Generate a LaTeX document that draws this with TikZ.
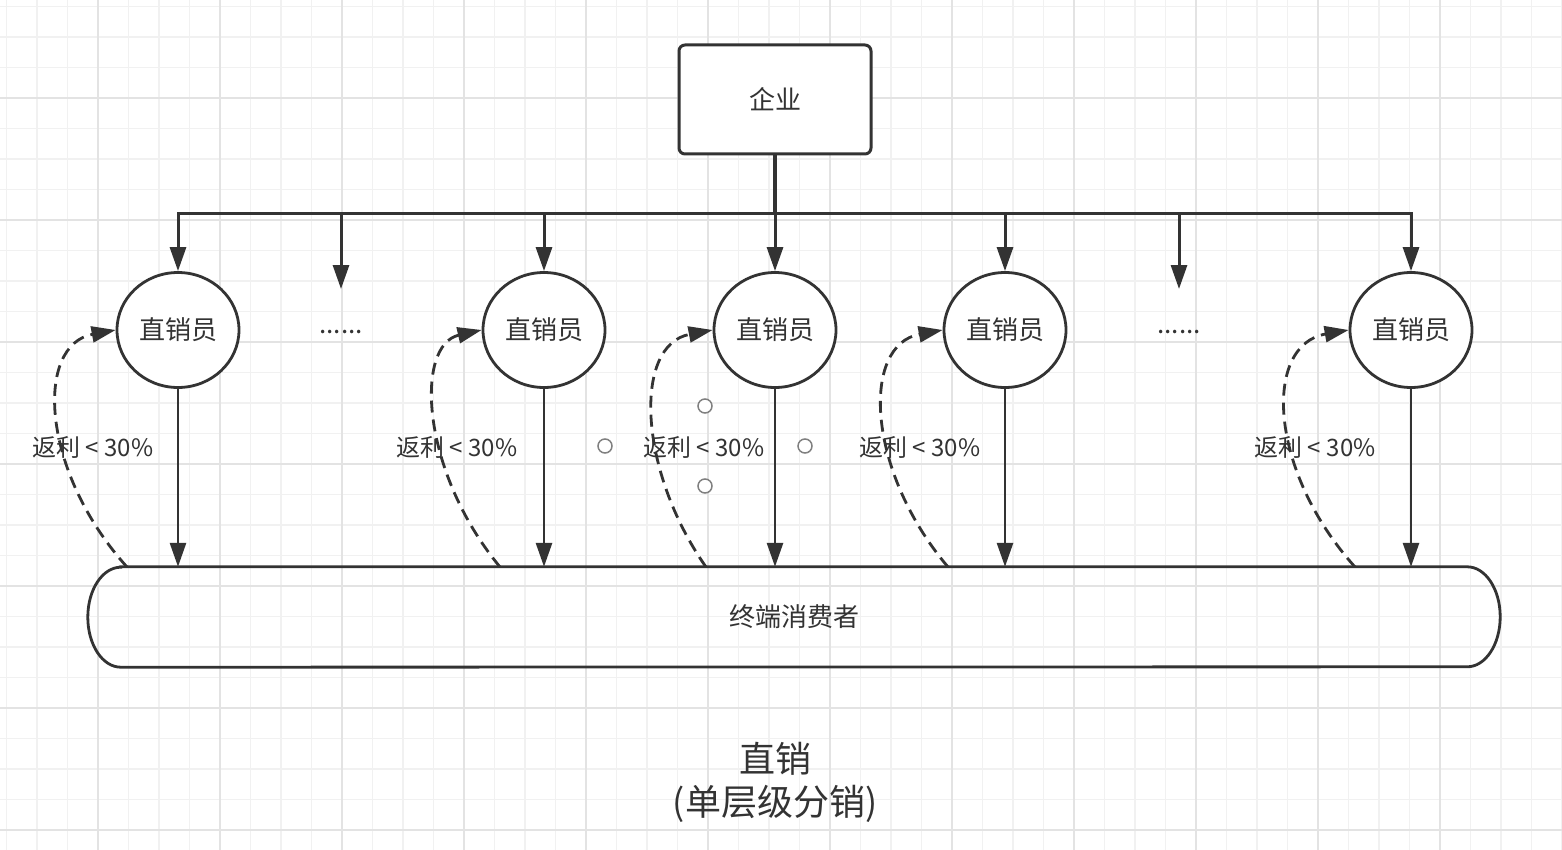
\documentclass[tikz,border=0pt]{standalone}
\usepackage{fontspec}
\setmainfont{Noto Sans CJK SC}
\usetikzlibrary{arrows.meta,shapes.geometric}
\definecolor{ink}{HTML}{333333}
\definecolor{gridminor}{HTML}{F1F1F1}
\definecolor{gridmajor}{HTML}{E3E3E3}
\definecolor{handle}{HTML}{808080}
\tikzset{
  minorline/.style={gridminor, line width=1.2pt},
  majorline/.style={gridmajor, line width=1.6pt},
  boxnode/.style={draw=ink, line width=3pt, rounded corners=6pt, fill=white,
    minimum width=192pt, minimum height=109pt, inner sep=0pt, text=ink,
    font=\fontsize{26pt}{30pt}\selectfont},
  sellernode/.style={ellipse, draw=ink, line width=2.8pt, fill=white,
    minimum width=122pt, minimum height=115pt, inner sep=0pt, text=ink,
    font=\fontsize{26pt}{30pt}\selectfont},
  dotsnode/.style={text=ink, inner sep=0pt, font=\fontsize{26pt}{30pt}\selectfont},
  labelnode/.style={text=ink, inner sep=0pt, font=\fontsize{24pt}{28pt}\selectfont},
  conn/.style={draw=ink, line width=2.8pt, -{Triangle[length=24pt,width=16pt]}},
  trunkconn/.style={draw=ink, line width=3pt, -{Triangle[length=24pt,width=16pt]}},
  rebate/.style={draw=ink, line width=2.8pt, dash pattern=on 12pt off 7pt,
    -{Triangle[length=24pt,width=16pt]}},
  handlenode/.style={circle, draw=handle, line width=1.5pt, fill=white,
    minimum size=14pt, inner sep=0pt},
}
\begin{document}
\begin{tikzpicture}[x=1pt,y=-1pt]
% background and bounding box
\fill[white] (0,0) rectangle (1562,850);
\useasboundingbox (0,0) rectangle (1562,850);
% grid
\foreach \i in {0,...,51} {\draw[minorline] ({6.5+30.5*\i},0) -- ({6.5+30.5*\i},850);}
\foreach \i in {0,...,27} {\draw[minorline] (0,{6.5+30.5*\i}) -- (1562,{6.5+30.5*\i});}
\foreach \i in {0,...,11} {\draw[majorline] ({98+122*\i},0) -- ({98+122*\i},850);}
\foreach \i in {0,...,6} {\draw[majorline] (0,{98+122*\i}) -- (1562,{98+122*\i});}

% nodes
\node[boxnode] (qy) at (775,99.5) {企业};
\node[sellernode] (s1) at (178,330) {直销员};
\node[sellernode] (s2) at (544,330) {直销员};
\node[sellernode] (s3) at (775,330) {直销员};
\node[sellernode] (s4) at (1005,330) {直销员};
\node[sellernode] (s5) at (1411,330) {直销员};
\node[dotsnode] (dots1) at (341,332) {......};
\node[dotsnode] (dots2) at (1179,332) {......};
\coordinate (e1) at (341,289);
\coordinate (e2) at (1179,289);
\coordinate (bus) at (0,214);

% consumer
\node[minimum width=1412pt, minimum height=100pt, inner sep=0pt, text=ink,
  font=\fontsize{26pt}{30pt}\selectfont] (cons) at (794,617) {终端消费者};
\draw[ink, line width=2.8pt]
  ([xshift=33pt]cons.north west) -- ([xshift=-33pt]cons.north east)
  arc[start angle=90, end angle=-90, x radius=33pt, y radius=50pt]
  -- ([xshift=33pt]cons.south west)
  arc[start angle=270, end angle=90, x radius=33pt, y radius=50pt] -- cycle;

% tree from 企业
\foreach \t in {s1,e1,s2,s3,s4,e2,s5} {
  \draw[trunkconn] (qy.south) -- (qy.south |- bus) -| (\t);
}
\draw[ink, line width=4pt] (qy.south) -- (qy.south |- bus);

% seller -> consumer
\foreach \t in {s1,s2,s3,s4,s5} {
  \draw[conn] (\t.south) -- (\t.south |- cons.north);
}

% rebate curves
\coordinate (r1) at (127,567);
\coordinate (r2) at (500,567);
\coordinate (r3) at (706,567);
\coordinate (r4) at (948,567);
\coordinate (r5) at (1355,567);
\draw[rebate] (r1) .. controls (40,470) and (35,345) .. (s1.west);
\draw[rebate] (r2) .. controls (420,470) and (415,345) .. (s2.west);
\draw[rebate] (r3) .. controls (638,470) and (633,345) .. (s3.west);
\draw[rebate] (r4) .. controls (866,470) and (861,345) .. (s4.west);
\draw[rebate] (r5) .. controls (1268,470) and (1263,345) .. (s5.west);

\node[labelnode] (l1) at (93,447) {返利 < 30\%};
\node[labelnode] (l2) at (457,447) {返利 < 30\%};
\node[labelnode] (l3) at (704,447) {返利 < 30\%};
\node[labelnode] (l4) at (920,447) {返利 < 30\%};
\node[labelnode] (l5) at (1315,447) {返利 < 30\%};

% selection handles
\node[handlenode] (h1) at (705,406) {};
\node[handlenode] (h2) at (605,446) {};
\node[handlenode] (h3) at (805,446) {};
\node[handlenode] (h4) at (705,486) {};

% title
\node[text=ink, align=center, inner sep=0pt,
  font=\fontsize{36pt}{43pt}\selectfont] (title) at (775,782) {直销\\(单层级分销)};
\end{tikzpicture}
\end{document}
